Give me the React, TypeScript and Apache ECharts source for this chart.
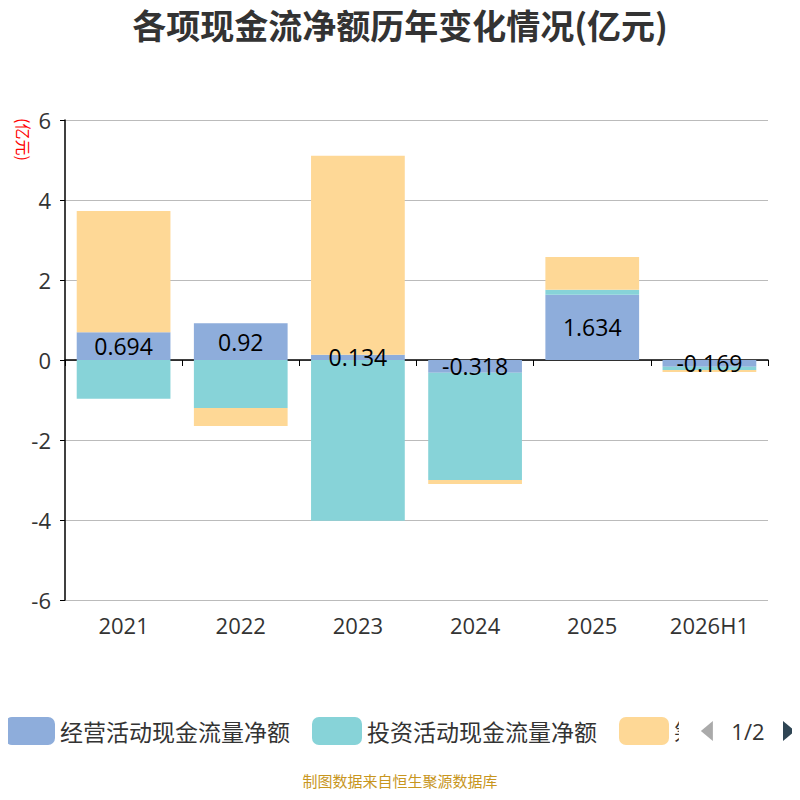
import React, { useEffect, useRef } from "react";
import * as echarts from "echarts";

const categories = ["2021", "2022", "2023", "2024", "2025", "2026H1"];
const operating = [0.694, 0.92, 0.134, -0.318, 1.634, -0.169];
const investing = [-0.97, -1.2, -4.02, -2.68, 0.12, -0.08];
const financing = [3.03, -0.45, 4.97, -0.1, 0.82, -0.05];

export default function App() {
  const ref = useRef<HTMLDivElement>(null);
  useEffect(() => {
    const chart = echarts.init(ref.current!, undefined, { renderer: "svg" });
    const font = "Noto Sans CJK SC";
    const num = "Open Sans";
    chart.setOption({
      animation: false,
      textStyle: { fontFamily: font },
      title: {
        text: "各项现金流净额历年变化情况(亿元)",
        left: "center",
        top: 2,
        textStyle: { fontSize: 34, fontWeight: "bold", color: "#333", fontFamily: font },
      },
      legend: {
        type: "scroll",
        bottom: 50,
        left: 0,
        right: 0,
        itemWidth: 50,
        itemHeight: 28,
        itemGap: 22,
        textStyle: { fontSize: 23, color: "#333" },
        pageIconSize: 20,
        pageButtonItemGap: 8,
        pageTextStyle: { fontSize: 22, color: "#333", fontFamily: num },
        pageIconColor: "#2f4554",
        pageIconInactiveColor: "#aaa",
      },
      graphic: [
        {
          type: "text",
          left: "center",
          bottom: 12,
          style: { text: "制图数据来自恒生聚源数据库", fill: "#c8961e", fontSize: 15, fontFamily: font },
        },
        {
          type: "text",
          x: 16,
          y: 118,
          rotation: -Math.PI / 2,
          style: { text: "(亿元)", fill: "red", fontSize: 16, fontFamily: font, verticalAlign: "bottom" },
        },
      ],
      grid: { left: 65, right: 32, top: 120, bottom: 200 },
      xAxis: [
        {
          type: "category",
          data: categories,
          position: "bottom",
          axisLine: { onZero: true, lineStyle: { color: "#000", width: 1.5 } },
          axisTick: { show: true, lineStyle: { color: "#000" }, length: 6 },
          axisLabel: { show: false },
        },
        {
          type: "category",
          data: categories,
          position: "bottom",
          axisLine: { show: false },
          axisTick: { show: false },
          axisLabel: { fontSize: 22, color: "#333", margin: 14, fontFamily: num },
        },
      ],
      yAxis: {
        type: "value",
        min: -6,
        max: 6,
        interval: 2,
        axisLine: { show: true, lineStyle: { color: "#000", width: 1.5 } },
        axisTick: { show: true, lineStyle: { color: "#000" } },
        axisLabel: { fontSize: 22, color: "#333", margin: 14, fontFamily: num },
        splitLine: { lineStyle: { color: "#bbb" } },
      },
      series: [
        {
          name: "经营活动现金流量净额",
          type: "bar",
          stack: "s",
          data: operating,
          barWidth: "80%",
          itemStyle: { color: "#8eaddb" },
          label: { show: true, position: "inside", fontSize: 23, color: "#000", fontFamily: num },
        },
        {
          name: "投资活动现金流量净额",
          type: "bar",
          stack: "s",
          data: investing,
          itemStyle: { color: "#87d3d8" },
        },
        {
          name: "筹资活动现金流量净额",
          type: "bar",
          stack: "s",
          data: financing,
          itemStyle: { color: "#fed896" },
        },
      ],
    });
    return () => chart.dispose();
  }, []);
  return <div ref={ref} style={{ width: 800, height: 800, margin: -8 }} />;
}
